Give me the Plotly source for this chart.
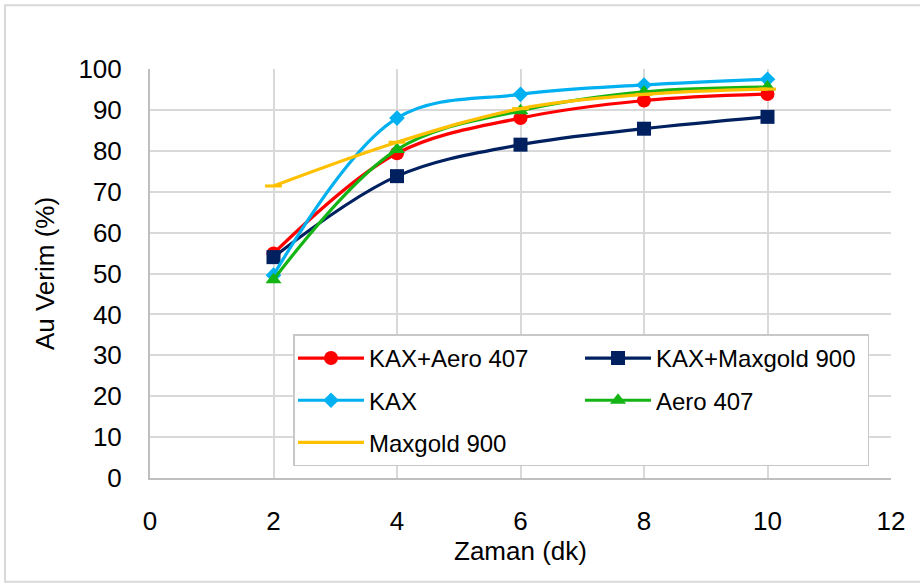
import plotly.graph_objects as go

# Flotation time (min) and gold recovery (%) for each reagent scheme
zaman = [2, 4, 6, 8, 10]
kax_aero = [54.9, 79.4, 88.0, 92.3, 93.9]
kax_maxgold = [54.0, 73.8, 81.5, 85.4, 88.3]
kax = [49.6, 88.0, 93.8, 96.1, 97.5]
aero = [48.5, 80.3, 89.8, 94.4, 95.6]
maxgold = [71.4, 82.1, 90.3, 93.8, 95.1]

series = [
    ("KAX+Aero 407", kax_aero, "#FF0000", "circle", 14),
    ("KAX+Maxgold 900", kax_maxgold, "#002060", "square", 14),
    ("KAX", kax, "#00B0F0", "diamond", 12),
    ("Aero 407", aero, "#14B414", "triangle-up", 14),
    ("Maxgold 900", maxgold, "#FFC000", "line-ew", 12),
]

FONT = "Liberation Sans, Arial, sans-serif"

fig = go.Figure()
for name, vals, color, symbol, size in series:
    fig.add_trace(go.Scatter(
        x=zaman, y=vals, name=name, legendgroup=name,
        mode="lines+markers",
        line=dict(color=color, width=3.2, shape="spline", smoothing=1),
        marker=dict(symbol=symbol, size=size, color=color,
                    line=dict(color=color, width=3 if symbol == "line-ew" else 0)),
    ))

fig.update_layout(
    width=920, height=584,
    margin=dict(l=150, r=29, t=69, b=106),
    paper_bgcolor="white", plot_bgcolor="white",
    font=dict(family=FONT, size=26, color="#000000"),
    showlegend=True,
    legend=dict(
        orientation="h", x=0.193, y=0.351, xanchor="left", yanchor="top",
        bgcolor="white", bordercolor="#C8C8C8", borderwidth=1.5,
        font=dict(family=FONT, size=24, color="#000000"),
        entrywidth=206, tracegroupgap=8, itemwidth=66,
    ),
    shapes=[dict(type="rect", xref="paper", yref="paper",
                 x0=-0.1957, x1=1.05, y0=-0.2537, y1=1.156,
                 line=dict(color="#D9D9D9", width=2), layer="below")],
)

fig.update_xaxes(
    range=[0, 12], dtick=2, tick0=0,
    showgrid=True, gridcolor="#D9D9D9", gridwidth=1.5,
    showline=True, linecolor="#BFBFBF", linewidth=2,
    ticks="", zeroline=False, ticklabelstandoff=19,
    tickfont=dict(size=26),
    title=dict(text="Zaman (dk)", font=dict(size=26), standoff=7),
)
fig.update_yaxes(
    range=[0, 100], dtick=10, tick0=0,
    showgrid=True, gridcolor="#D9D9D9", gridwidth=1.5,
    showline=True, linecolor="#BFBFBF", linewidth=2,
    ticks="", zeroline=False, ticklabelstandoff=21,
    tickfont=dict(size=26),
    title=dict(text="Au Verim (%)", font=dict(size=26), standoff=16),
)

fig.write_html("out.html")
